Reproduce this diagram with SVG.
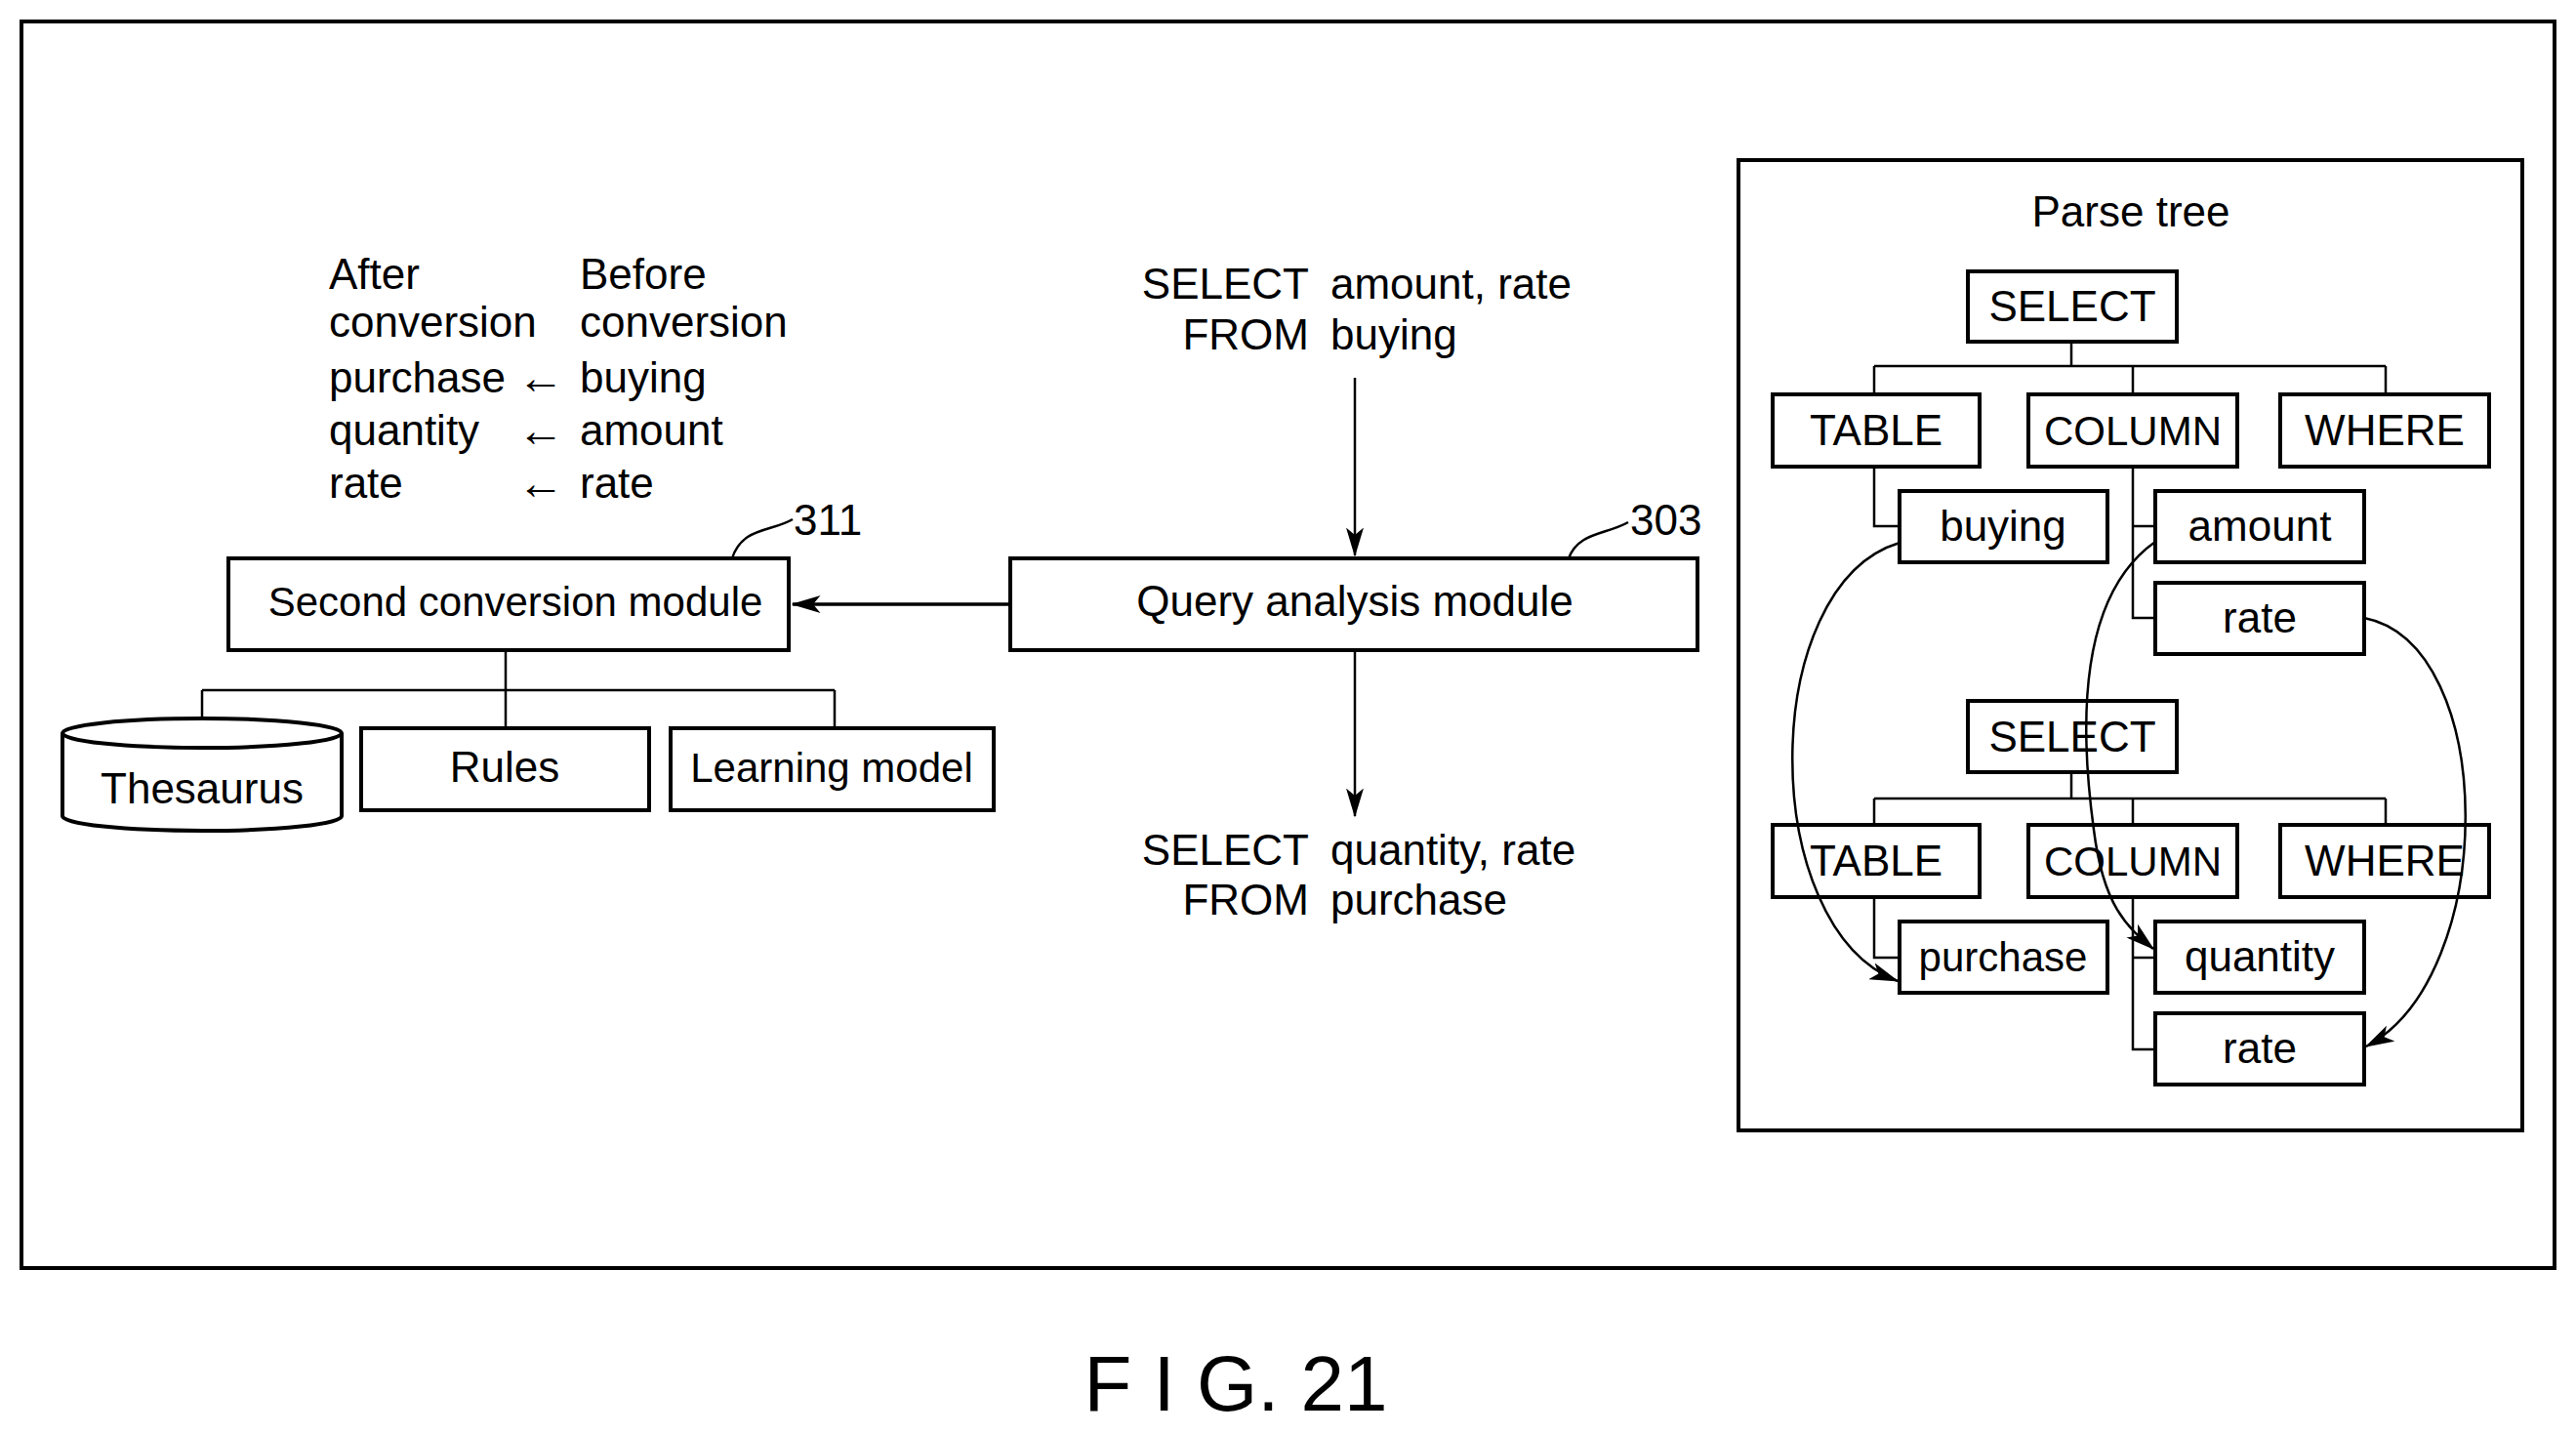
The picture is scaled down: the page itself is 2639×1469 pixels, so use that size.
<svg xmlns="http://www.w3.org/2000/svg" width="2639" height="1469" viewBox="0 0 2639 1469">
<style>
text{font-family:"Liberation Sans",Arial,sans-serif;font-size:44px;fill:#000}
.c{text-anchor:middle}
.r{text-anchor:end}
.ar{font-size:48px}
.box{fill:#fff;stroke:#000;stroke-width:4}
.ln{fill:none;stroke:#000;stroke-width:2.5}
</style>
<defs>
<marker id="ahb" viewBox="0 0 20 12" refX="19" refY="6" markerWidth="30" markerHeight="18" markerUnits="userSpaceOnUse" orient="auto">
<path d="M0,0 L20,6 L0,12 L5,6 Z" fill="#000"/>
</marker>
</defs>
<rect x="22" y="22" width="2595" height="1277" fill="none" stroke="#000" stroke-width="4"/>
<g id="connectors">
<path class="ln" d="M1035,619 H812" marker-end="url(#ahb)" style="stroke-width:3.5"/>
<path class="ln" d="M1388,387 V569" marker-end="url(#ahb)"/>
<path class="ln" d="M1388,666 V836" marker-end="url(#ahb)"/>
<path class="ln" d="M518,666 V707 M207,707 H855 M207,707 V738 M518,707 V746 M855,707 V746"/>
<path class="ln" d="M750,572 C760,540 790,545 812,532"/>
<path class="ln" d="M1607,572 C1617,545 1645,548 1668,535"/>
<path class="ln" d="M2122,350 V375 M1920,375 H2444 M1920,375 V404 M2185,375 V404 M2444,375 V404"/>
<path class="ln" d="M1920,478 V539 H1946 M2185,478 V633 H2208 M2185,539 H2208"/>
<path class="ln" d="M2122,791 V818 M1920,818 H2444 M1920,818 V845 M2185,818 V845 M2444,818 V845"/>
<path class="ln" d="M1920,919 V981 H1946 M2185,919 V1075 H2208 M2185,981 H2208"/>
</g>
<g id="second-conversion"><rect class="box" x="234" y="572" width="574" height="94"/><text class="c" x="528" y="631" style="font-size:42px">Second conversion module</text></g>
<g id="query-analysis"><rect class="box" x="1035" y="572" width="704" height="94"/><text class="c" x="1388" y="631">Query analysis module</text></g>
<g id="label-311"><text x="813" y="548">311</text></g>
<g id="label-303"><text x="1670" y="548">303</text></g>
<g id="thesaurus">
<path class="box" d="M64,751 V836 A143,15 0 0 0 350,836 V751"/>
<ellipse class="box" cx="207" cy="751" rx="143" ry="15"/>
<text class="c" x="207" y="823">Thesaurus</text></g>
<g id="rules"><rect class="box" x="370" y="746" width="295" height="84"/><text class="c" x="517" y="801">Rules</text></g>
<g id="learning-model"><rect class="box" x="687" y="746" width="331" height="84"/><text class="c" x="852" y="801" style="font-size:42px">Learning model</text></g>
<g id="query-in"><text class="r" x="1341" y="306">SELECT</text><text x="1363" y="306">amount, rate</text><text class="r" x="1341" y="358">FROM</text><text x="1363" y="358">buying</text></g>
<g id="query-out"><text class="r" x="1341" y="886">SELECT</text><text x="1363" y="886">quantity, rate</text><text class="r" x="1341" y="937">FROM</text><text x="1363" y="937">purchase</text></g>
<g id="conversion-table">
<text x="337" y="296">After</text><text x="337" y="345">conversion</text>
<text x="594" y="296">Before</text><text x="594" y="345">conversion</text>
<text x="337" y="402">purchase</text><text class="ar" x="530" y="403">←</text><text x="594" y="402">buying</text>
<text x="337" y="456">quantity</text><text class="ar" x="530" y="457">←</text><text x="594" y="456">amount</text>
<text x="337" y="510">rate</text><text class="ar" x="530" y="511">←</text><text x="594" y="510">rate</text>
</g>
<g id="parse-tree">
<rect x="1781" y="164" width="803" height="994" fill="none" stroke="#000" stroke-width="4"/>
<text class="c" x="2183" y="232">Parse tree</text>
</g>
<g id="select1"><rect class="box" x="2016" y="278" width="214" height="72"/><text class="c" x="2123" y="329">SELECT</text></g>
<g id="table1"><rect class="box" x="1816" y="404" width="212" height="74"/><text class="c" x="1922" y="456">TABLE</text></g>
<g id="column1"><rect class="box" x="2078" y="404" width="214" height="74"/><text class="c" x="2185" y="456" style="font-size:42px">COLUMN</text></g>
<g id="where1"><rect class="box" x="2336" y="404" width="214" height="74"/><text class="c" x="2443" y="456">WHERE</text></g>
<g id="buying"><rect class="box" x="1946" y="503" width="213" height="73"/><text class="c" x="2052" y="554">buying</text></g>
<g id="amount"><rect class="box" x="2208" y="503" width="214" height="73"/><text class="c" x="2315" y="554">amount</text></g>
<g id="rate1"><rect class="box" x="2208" y="597" width="214" height="73"/><text class="c" x="2315" y="648">rate</text></g>
<g id="select2"><rect class="box" x="2016" y="718" width="214" height="73"/><text class="c" x="2123" y="770">SELECT</text></g>
<g id="table2"><rect class="box" x="1816" y="845" width="212" height="74"/><text class="c" x="1922" y="897">TABLE</text></g>
<g id="column2"><rect class="box" x="2078" y="845" width="214" height="74"/><text class="c" x="2185" y="897" style="font-size:42px">COLUMN</text></g>
<g id="where2"><rect class="box" x="2336" y="845" width="214" height="74"/><text class="c" x="2443" y="897">WHERE</text></g>
<g id="purchase"><rect class="box" x="1946" y="944" width="213" height="73"/><text class="c" x="2052" y="995" style="font-size:42px">purchase</text></g>
<g id="quantity"><rect class="box" x="2208" y="944" width="214" height="73"/><text class="c" x="2315" y="995">quantity</text></g>
<g id="rate2"><rect class="box" x="2208" y="1038" width="214" height="73"/><text class="c" x="2315" y="1089">rate</text></g>
<g id="mapping-arrows">
<path class="ln" d="M1946,556 C1800,600 1800,950 1944,1005" marker-end="url(#ahb)"/>
<path class="ln" d="M2208,555 C2130,610 2130,740 2145,850 C2155,930 2180,950 2206,972" marker-end="url(#ahb)"/>
<path class="ln" d="M2422,633 C2560,660 2560,1000 2424,1072" marker-end="url(#ahb)"/>
</g>
<text class="c" x="1266" y="1445" style="font-size:80px">F I G. 21</text>
</svg>
